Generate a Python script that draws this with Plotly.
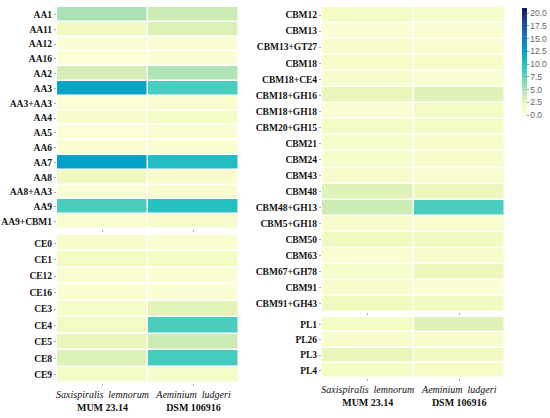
import plotly.graph_objects as go

strains = ["Saxispiralis lemnorum|MUM 23.14", "Aeminium ludgeri|DSM 106916"]
strain_labels = ["<i>Saxispiralis&nbsp; lemnorum</i><br><b>MUM 23.14</b>",
                 "<i>Aeminium&nbsp; ludgeri</i><br><b>DSM 106916</b>"]

aa_rows = ["AA1", "AA11", "AA12", "AA16", "AA2", "AA3", "AA3+AA3", "AA4", "AA5", "AA6",
           "AA7", "AA8", "AA8+AA3", "AA9", "AA9+CBM1"]
aa_sax = [5.2, 1.8, 0.5, 0.4, 3.6, 12.3, 0.3, 1.0, 0.3, 0.6, 12.5, 2.0, 0.5, 8.5, 0.9]
aa_aem = [4.0, 3.2, 0.7, 0.6, 5.0, 8.5, 0.8, 1.5, 0.7, 0.8, 10.3, 1.0, 0.9, 10.0, 1.0]

ce_rows = ["CE0", "CE1", "CE12", "CE16", "CE3", "CE4", "CE5", "CE8", "CE9"]
ce_sax = [1.0, 1.6, 0.7, 0.6, 1.2, 1.6, 2.5, 3.2, 1.4]
ce_aem = [0.8, 1.5, 0.6, 0.5, 2.8, 8.5, 4.0, 8.7, 1.1]

cbm_rows = ["CBM12", "CBM13", "CBM13+GT27", "CBM18", "CBM18+CE4", "CBM18+GH16", "CBM18+GH18",
            "CBM20+GH15", "CBM21", "CBM24", "CBM43", "CBM48", "CBM48+GH13", "CBM5+GH18",
            "CBM50", "CBM63", "CBM67+GH78", "CBM91", "CBM91+GH43"]
cbm_sax = [1.5, 0.6, 1.0, 1.3, 1.0, 2.5, 0.6, 1.5, 1.2, 1.2, 1.0, 3.0, 4.0, 1.0, 2.0, 0.7, 1.2, 1.0, 2.0]
cbm_aem = [1.2, 0.8, 0.8, 1.3, 0.9, 3.0, 1.5, 1.5, 1.0, 1.0, 0.9, 2.2, 8.5, 0.9, 1.8, 1.0, 2.2, 0.5, 1.8]

pl_rows = ["PL1", "PL26", "PL3", "PL4"]
pl_sax = [1.5, 1.0, 2.5, 1.5]
pl_aem = [3.0, 1.0, 1.8, 1.3]

cbar_ticks = [0, 2.5, 5, 7.5, 10, 12.5, 15, 17.5, 20]

colorscale = [
    [0.0, "#ffffdc"], [0.1, "#f0f9bc"], [0.2, "#c9eab4"], [0.3, "#88d8b8"],
    [0.45, "#2ec8c0"], [0.6, "#00a0c8"], [0.75, "#1d6fb8"], [0.9, "#21398f"], [1.0, "#081d58"]]

W, H = 550, 418
def xd(a, b):
    return [a / W, b / W]
def yd(top, bot):
    return [1 - bot / H, 1 - top / H]

blocks = [
    (aa_rows, aa_sax, aa_aem, "x", "y", xd(57, 239), yd(7, 229), False),
    (ce_rows, ce_sax, ce_aem, "x2", "y2", xd(57, 239), yd(235, 383), True),
    (cbm_rows, cbm_sax, cbm_aem, "x3", "y3", xd(322, 505), yd(7, 312), False),
    (pl_rows, pl_sax, pl_aem, "x4", "y4", xd(322, 505), yd(317, 378), True),
]

fig = go.Figure()
layout_axes = {}
for i, (rows, s, a, xa, ya, xdom, ydom, lab) in enumerate(blocks):
    z = [[s[k], a[k]] for k in range(len(rows))]
    fig.add_trace(go.Heatmap(z=z, x=strains, y=rows, xaxis=xa, yaxis=ya,
                             coloraxis="coloraxis", xgap=1.5, ygap=1.5))
    n = "" if i == 0 else str(i + 1)
    layout_axes["xaxis" + n] = dict(
        domain=xdom, anchor=ya, tickvals=strains, ticktext=strain_labels,
        showticklabels=lab, ticks="outside", ticklen=2, tickcolor="#aaa",
        tickangle=0, automargin=False, showgrid=False, zeroline=False, showline=False,
        tickfont=dict(family="Liberation Serif", size=10, color="#111"))
    layout_axes["yaxis" + n] = dict(
        domain=ydom, anchor=xa, autorange="reversed", ticks="outside", automargin=False,
        ticklen=2, tickcolor="#aaa", showgrid=False, zeroline=False, showline=False,
        tickfont=dict(family="Liberation Serif", size=9.5, color="#111"),
        tickprefix="<b>", ticksuffix="</b>")

fig.update_layout(
    width=W, height=H, margin=dict(l=0, r=0, t=0, b=0, autoexpand=False),
    paper_bgcolor="white", plot_bgcolor="white", showlegend=False,
    coloraxis=dict(
        colorscale=colorscale, cmin=0, cmax=21,
        colorbar=dict(x=522 / W, xanchor="left", y=1 - 8 / H, yanchor="top",
                      xpad=0, ypad=0,
                      len=107, lenmode="pixels", thickness=5, outlinewidth=0,
                      tickvals=cbar_ticks, ticktext=[f"{v:.1f}" for v in cbar_ticks],
                      ticks="outside", ticklen=2, tickcolor="#999",
                      tickfont=dict(family="Liberation Sans", size=8.5, color="#666"))),
    **layout_axes)

fig.write_html("out.html", config={"displayModeBar": False},
               post_script="document.body.style.margin='0';")
